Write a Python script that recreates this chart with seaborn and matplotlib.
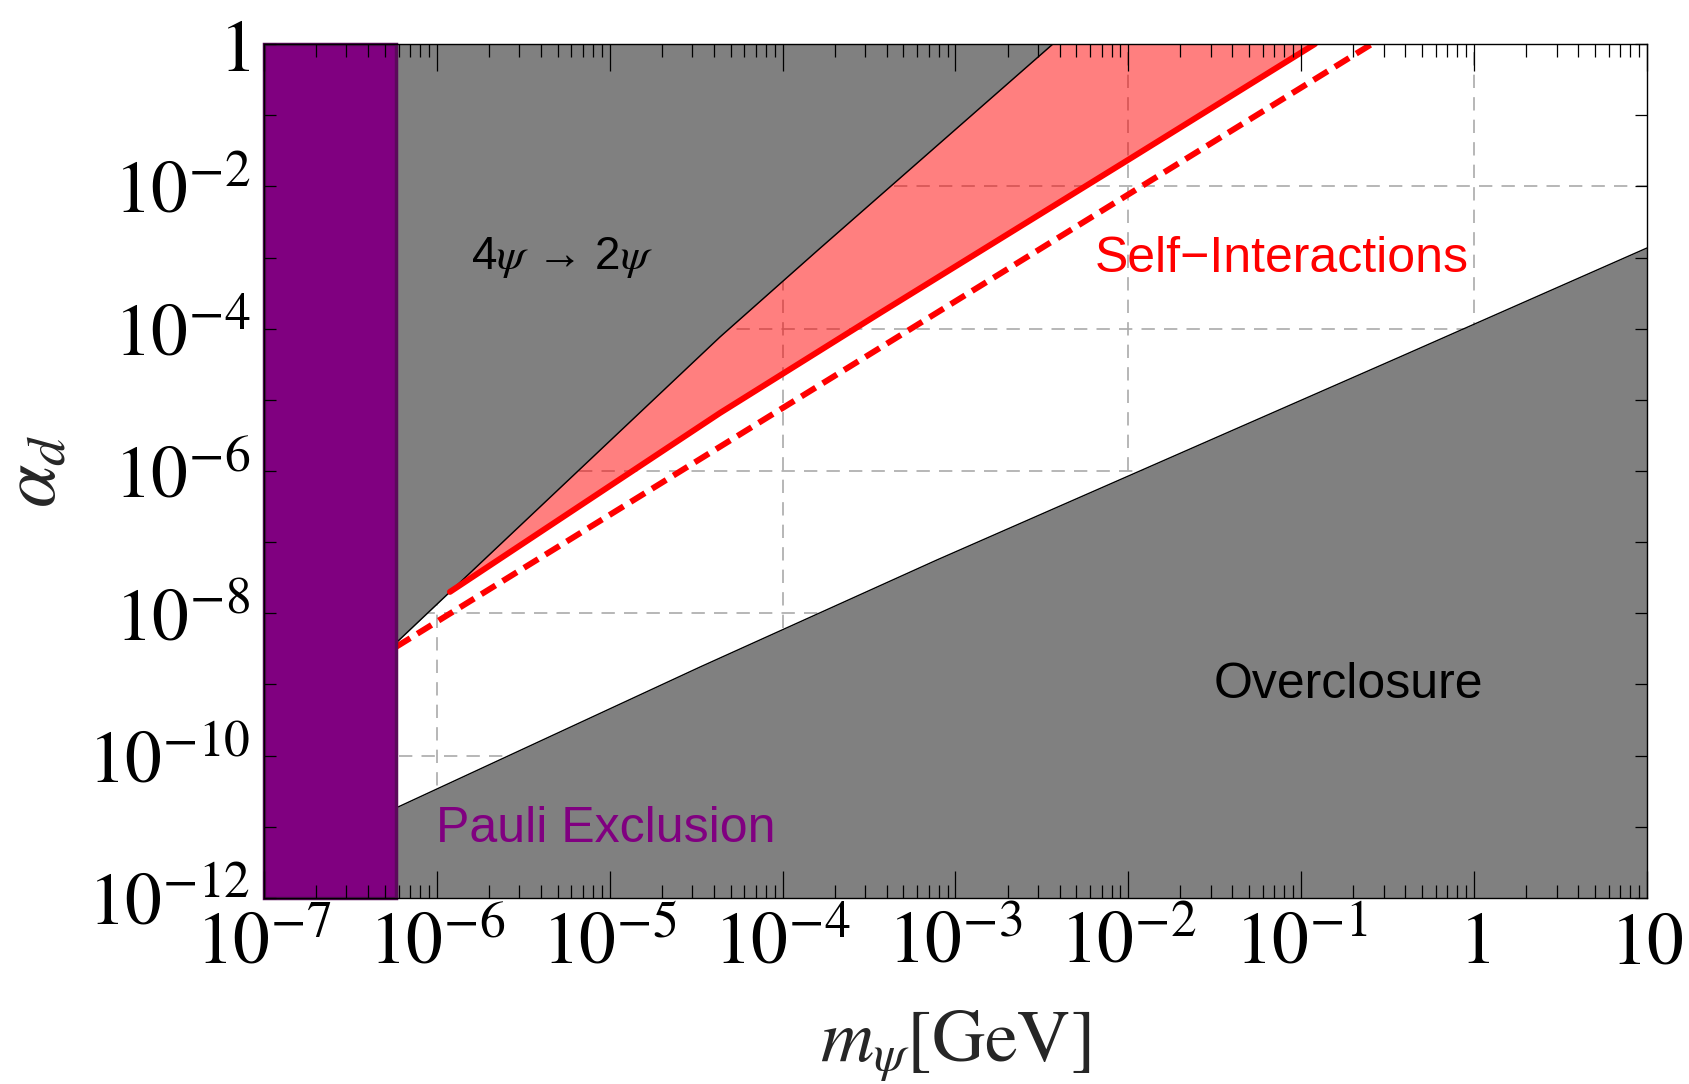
import matplotlib
matplotlib.use("Agg")
import matplotlib.pyplot as plt
import seaborn as sns
from matplotlib.ticker import FixedLocator, FixedFormatter, LogLocator, NullFormatter

# ---- data (m_psi in GeV, alpha_d) ----
m_pauli = 5.8e-7  # Pauli exclusion bound on the dark fermion mass

# 4psi -> 2psi boundary (excluded above)
m_4to2 = [5.8e-7, 1.19e-6, 4.34e-5, 1.6e-4, 3.66e-3]
a_4to2 = [3.83e-9, 2.0e-8, 7.64e-5, 1.27e-3, 1.0]

# self-interaction bound (solid)
m_si = [1.19e-6, 4.34e-5, 3.66e-4, 9.93e-3, 0.12]
a_si = [2.0e-8, 6.53e-6, 1.66e-4, 2.34e-2, 1.0]

# self-interaction bound (dashed)
m_si_dash = [5.8e-7, 0.256]
a_si_dash = [3.37e-9, 1.0]

# overclosure boundary (excluded below)
m_oc = [5.8e-7, 3.33e-5, 7.8e-4, 0.372, 10.0]
a_oc = [1.84e-11, 1.76e-9, 5.61e-8, 4.0e-5, 1.36e-3]

x_ticks = [1e-7, 1e-6, 1e-5, 1e-4, 1e-3, 1e-2, 1e-1, 1, 10]
x_ticklabels = [r"$10^{-7}$", r"$10^{-6}$", r"$10^{-5}$", r"$10^{-4}$", r"$10^{-3}$",
                r"$10^{-2}$", r"$10^{-1}$", r"$1$", r"$10$"]
y_ticks = [1e-12, 1e-11, 1e-10, 1e-9, 1e-8, 1e-7, 1e-6, 1e-5, 1e-4, 1e-3, 1e-2, 1e-1, 1]
y_ticklabels = [r"$10^{-12}$", "", r"$10^{-10}$", "", r"$10^{-8}$", "", r"$10^{-6}$", "",
                r"$10^{-4}$", "", r"$10^{-2}$", "", r"$1$"]
x_grid = [1e-6, 1e-4, 1e-2, 1]
y_grid = [1e-10, 1e-8, 1e-6, 1e-4, 1e-2]

# ---- style ----
sns.set_theme(style="ticks")
plt.rcParams.update({
    "font.family": ["Liberation Sans", "DejaVu Sans"],
    "mathtext.fontset": "stix",
    "axes.edgecolor": "black",
    "axes.linewidth": 1.0,
    "xtick.color": "black",
    "ytick.color": "black",
})

fig = plt.figure(figsize=(16.89, 10.84), dpi=100)
ax = fig.add_axes([0.1563, 0.1716, 0.8188, 0.7878])
ax.set_xscale("log")
ax.set_yscale("log")
ax.set_xlim(1e-7, 10)
ax.set_ylim(1e-12, 1)
ax.set_axisbelow(False)

# dashed grid kept underneath the shaded regions
ax.vlines(x_grid, 1e-12, 1, colors="#aaaaaa", linestyles=(0, (8, 5.5)), lw=1.2, zorder=0.5)
ax.hlines(y_grid, 1e-7, 10, colors="#aaaaaa", linestyles=(0, (8, 5.5)), lw=1.2, zorder=0.5)

# excluded regions
ax.fill_between(m_4to2, a_4to2, 2.0, color="#808080", lw=0, zorder=1)
ax.fill_between(m_oc, 1e-13, a_oc, color="#808080", lw=0, zorder=1)
ax.fill(m_4to2[1:] + m_si[::-1], a_4to2[1:] + a_si[::-1], color="red", alpha=0.5, lw=0, zorder=1.2)

# boundaries
sns.lineplot(x=m_4to2, y=a_4to2, ax=ax, color="black", lw=1.0, sort=False, estimator=None, zorder=2)
sns.lineplot(x=m_oc, y=a_oc, ax=ax, color="black", lw=1.0, sort=False, estimator=None, zorder=2)
sns.lineplot(x=m_si, y=a_si, ax=ax, color="red", lw=4.3, sort=False, estimator=None, zorder=2.2)
sns.lineplot(x=m_si_dash, y=a_si_dash, ax=ax, color="red", lw=4.3, sort=False, estimator=None,
             linestyle=(0, (2.8, 1.4)), dash_capstyle="butt", zorder=2.2)

# Pauli exclusion band
ax.axvspan(1e-7, m_pauli, facecolor="#800080", edgecolor="#5a0a5a", lw=2.5, clip_on=False, zorder=2.4)

# labels inside the plot
ax.text(5.3e-6, 6.9e-4, r"4$\psi$ → 2$\psi$", fontsize=33, ha="center", va="baseline", color="black", zorder=3)
ax.text(0.0773, 6.25e-4, "Self\u2212Interactions", fontsize=36, ha="center", va="baseline", color="red", zorder=3)
ax.text(0.188, 6.45e-10, "Overclosure", fontsize=36, ha="center", va="baseline", color="black", zorder=3)
ax.text(9.5e-6, 6.1e-12, "Pauli Exclusion", fontsize=36, ha="center", va="baseline", color="#800080", zorder=3)

# ticks
ax.xaxis.set_major_locator(FixedLocator(x_ticks))
ax.xaxis.set_major_formatter(FixedFormatter(x_ticklabels))
ax.xaxis.set_minor_locator(LogLocator(base=10, subs=range(2, 10), numticks=20))
ax.xaxis.set_minor_formatter(NullFormatter())
ax.yaxis.set_major_locator(FixedLocator(y_ticks))
ax.yaxis.set_major_formatter(FixedFormatter(y_ticklabels))
ax.yaxis.set_minor_locator(FixedLocator([]))

ax.tick_params(axis="x", which="major", direction="in", length=19.4, width=0.9,
               top=True, bottom=True, labelsize=53, pad=8)
ax.tick_params(axis="x", which="minor", direction="in", length=9.4, width=0.9, top=True, bottom=True)
ax.tick_params(axis="y", which="major", direction="in", length=8.6, width=0.9,
               left=True, right=True, labelsize=53, pad=10)
for s in ax.spines.values():
    s.set_visible(True)
    s.set_zorder(2.6)

ax.set_xlabel(r"$m_{\psi}[\mathrm{GeV}]$", fontsize=53)
ax.set_ylabel(r"$\alpha_d$", fontsize=56)
ax.xaxis.set_label_coords(0.5, -0.13)
ax.yaxis.set_label_coords(-0.1395, 0.5)

fig.savefig("out.png", dpi=100, facecolor="white")
